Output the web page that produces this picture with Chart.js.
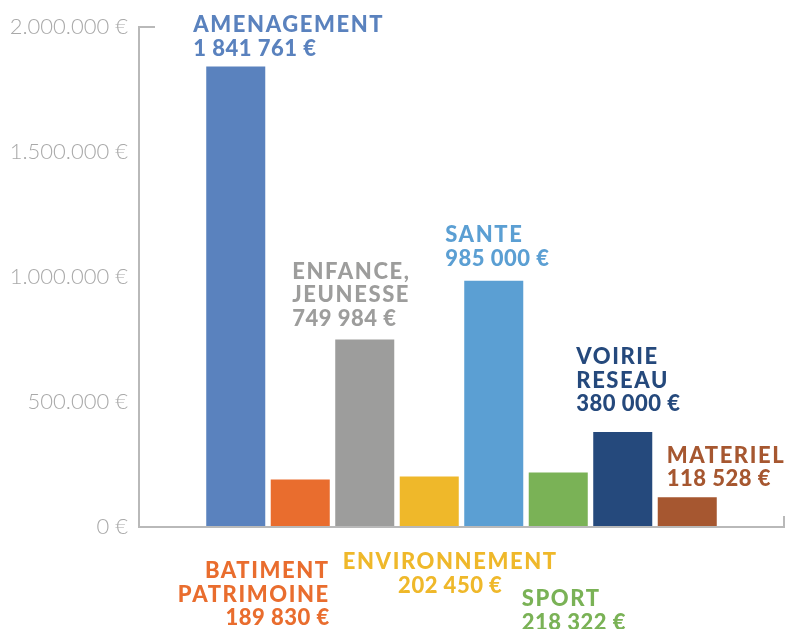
<!DOCTYPE html>
<html lang="fr">
<head>
  <meta charset="UTF-8" />
  <title>Investissements</title>
  <script src="https://cdn.jsdelivr.net/npm/chart.js"></script>
  <style>
    html, body { margin: 0; padding: 0; background: #fff; }
    #cadre { width: 786px; height: 629px; }
  </style>
</head>
<body>
  <div id="cadre"><canvas id="graphique"></canvas></div>

  <script>
    // données
    const categories = ['AMENAGEMENT', 'BATIMENT PATRIMOINE', 'ENFANCE, JEUNESSE', 'ENVIRONNEMENT',
      'SANTE', 'SPORT', 'VOIRIE RESEAU', 'MATERIEL'];
    const montants = [1841761, 189830, 749984, 202450, 985000, 218322, 380000, 118528];
    const etiquettes = [
      ['AMENAGEMENT', '1 841 761 €'],
      ['BATIMENT', 'PATRIMOINE', '189 830 €'],
      ['ENFANCE,', 'JEUNESSE', '749 984 €'],
      ['ENVIRONNEMENT', '202 450 €'],
      ['SANTE', '985 000 €'],
      ['SPORT', '218 322 €'],
      ['VOIRIE', 'RESEAU', '380 000 €'],
      ['MATERIEL', '118 528 €']
    ];
    const couleurs = ['#5a82be', '#e96d2e', '#9d9d9c', '#efb82a', '#5b9fd3', '#7ab256', '#25497c', '#a65730'];
    const valeursY = [0, 500000, 1000000, 1500000, 2000000];
    const libellesY = ['0 €', '500.000 €', '1.000.000 €', '1.500.000 €', '2.000.000 €'];

    // placement des étiquettes (haut = au-dessus de la barre, bas = sous l'axe)
    const placement = [
      { ou: 'haut', align: 'left', ref: 'gauche', dx: -13, dy: -19 },
      { ou: 'bas', align: 'right', ref: 'droite', dx: 0, dy: 43 },
      { ou: 'haut', align: 'left', ref: 'gauche', dx: -43, dy: -22 },
      { ou: 'bas', align: 'center', ref: 'centre', dx: 21, dy: 34 },
      { ou: 'haut', align: 'left', ref: 'gauche', dx: -19, dy: -23 },
      { ou: 'bas', align: 'left', ref: 'gauche', dx: -7, dy: 71 },
      { ou: 'haut', align: 'left', ref: 'gauche', dx: -17, dy: -29 },
      { ou: 'haut', align: 'left', ref: 'gauche', dx: 9, dy: -19 }
    ];
    const interligne = 23.5;
    const grisAxe = '#b9b9b9';

    const axes = {
      id: 'axes',
      afterDraw(chart) {
        const { ctx, chartArea: a } = chart;
        ctx.save();
        ctx.strokeStyle = grisAxe;
        ctx.lineWidth = 2;
        ctx.beginPath();
        ctx.moveTo(a.left + 16, a.top);
        ctx.lineTo(a.left, a.top);
        ctx.lineTo(a.left, a.bottom);
        ctx.lineTo(a.right, a.bottom);
        ctx.lineTo(a.right, a.bottom - 11);
        ctx.stroke();
        ctx.restore();
      }
    };

    const textes = {
      id: 'textes',
      afterDatasetsDraw(chart) {
        const { ctx, chartArea: a } = chart;
        const meta = chart.getDatasetMeta(0);
        ctx.save();
        categories.forEach((c, i) => {
          const bar = meta.data[i + 1];
          const p = placement[i];
          const demi = bar.width / 2;
          let x = bar.x;
          if (p.ref === 'gauche') x = bar.x - demi;
          if (p.ref === 'droite') x = bar.x + demi;
          x += p.dx;
          const lignes = etiquettes[i];
          let y0;
          if (p.ou === 'haut') y0 = bar.y + p.dy - (lignes.length - 1) * interligne;
          else y0 = a.bottom + p.dy;
          ctx.fillStyle = couleurs[i];
          ctx.textAlign = p.align;
          ctx.textBaseline = 'alphabetic';
          lignes.forEach((l, k) => {
            const chiffre = /\d/.test(l);
            ctx.font = '900 22px Lato';
            ctx.letterSpacing = chiffre ? '0.5px' : '1.6px';
            ctx.fillText(l, x, y0 + k * interligne + 8);
          });
        });
        ctx.restore();
      }
    };

    new Chart(document.getElementById('graphique'), {
      type: 'bar',
      data: {
        labels: ['', ...categories, ''],
        datasets: [{
          data: [null, ...montants, null],
          backgroundColor: ['#fff', ...couleurs, '#fff'],
          barPercentage: 0.915,
          categoryPercentage: 1
        }]
      },
      options: {
        responsive: true,
        maintainAspectRatio: false,
        animation: false,
        layout: { padding: { top: 27, bottom: 102, right: 2, left: 0 } },
        plugins: {
          legend: { display: false },
          tooltip: { enabled: false }
        },
        scales: {
          x: {
            grid: { display: false },
            border: { display: false },
            ticks: { display: false },
            afterFit(s) { s.height = 0; }
          },
          y: {
            min: 0,
            max: 2000000,
            grid: { display: false },
            border: { display: false },
            afterBuildTicks(s) { s.ticks = valeursY.map(v => ({ value: v })); },
            afterFit(s) { s.width = 139; },
            ticks: {
              padding: 3,
              color: '#a9a9a9',
              font: { family: 'Lato', size: 22, weight: 300 },
              callback: (v, i) => libellesY[i]
            }
          }
        }
      },
      plugins: [axes, textes]
    });
  </script>
</body>
</html>
